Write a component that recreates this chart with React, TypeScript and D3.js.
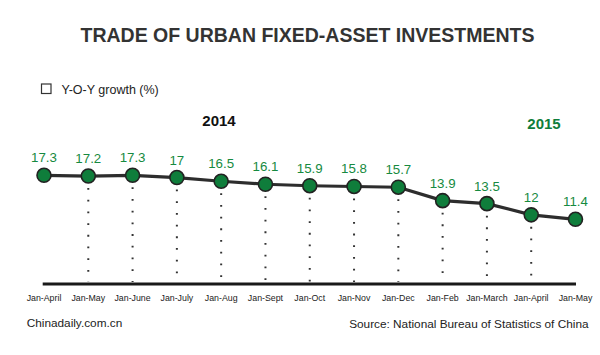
import React from "react";
import * as d3 from "d3";

const categories = [
  "Jan-April", "Jan-May", "Jan-June", "Jan-July", "Jan-Aug", "Jan-Sept",
  "Jan-Oct", "Jan-Nov", "Jan-Dec", "Jan-Feb", "Jan-March", "Jan-April", "Jan-May",
];
const growth = [17.3, 17.2, 17.3, 17, 16.5, 16.1, 15.9, 15.8, 15.7, 13.9, 13.5, 12, 11.4];
const valueLabels = ["17.3", "17.2", "17.3", "17", "16.5", "16.1", "15.9", "15.8", "15.7", "13.9", "13.5", "12", "11.4"];
const yearLabels = ["2014", "2015"];

const W = 600;
const H = 355;
const GREEN = "#0f7d3b";
const LABEL_GREEN = "#168a40";
const DARK = "#2d2d2d";
const FONT = "'Liberation Sans', Arial, Helvetica, sans-serif";

export default function App() {
  const idx = categories.map((_, i) => i);
  const x = d3.scalePoint<number>().domain(idx).range([44, 575.5]);
  const y = d3.scaleLinear().domain([11.4, 17.3]).range([219.3, 175.3]);
  const baseY = 284;
  const r = 7;

  const line = d3
    .line<number>()
    .x((d, i) => x(i) as number)
    .y((d) => y(d));

  return (
    <svg
      width={W}
      height={H}
      style={{ position: "absolute", left: 0, top: 0, background: "#fff" }}
      fontFamily={FONT}
    >
      <rect x={0} y={0} width={W} height={H} fill="#fff" />
      <text x={307.5} y={42} textAnchor="middle" fontSize={19.5} fontWeight="bold" fill="#333">
        TRADE OF URBAN FIXED-ASSET INVESTMENTS
      </text>

      {/* legend */}
      <rect x={41.5} y={84} width={9.5} height={9.5} fill="none" stroke="#333" strokeWidth={1.2} />
      <text x={61.5} y={94} fontSize={12.5} fill="#222">
        Y-O-Y growth (%)
      </text>

      <text x={219} y={126} textAnchor="middle" fontSize={15} fontWeight="bold" fill="#111">
        {yearLabels[0]}
      </text>
      <text x={544} y={129} textAnchor="middle" fontSize={15} fontWeight="bold" fill={GREEN}>
        {yearLabels[1]}
      </text>

      {/* dotted drop lines */}
      {growth.map((v, i) =>
        i === 0 || i === growth.length - 1 ? null : (
          <line
            key={"d" + i}
            x1={x(i)}
            x2={x(i)}
            y1={y(v) + 12}
            y2={baseY - 2}
            stroke="#333"
            strokeWidth={2}
            strokeDasharray="1.8 9.9"
          />
        )
      )}

      {/* baseline */}
      <line x1={42.7} x2={576} y1={baseY} y2={baseY} stroke="#1a1a1a" strokeWidth={3} />

      <path d={line(growth) || ""} fill="none" stroke={DARK} strokeWidth={3.2} strokeLinejoin="round" />

      {growth.map((v, i) => (
        <circle key={"c" + i} cx={x(i)} cy={y(v)} r={r} fill={GREEN} stroke="#222" strokeWidth={1.6} />
      ))}

      {growth.map((v, i) => (
        <text key={"l" + i} x={x(i)} y={y(v) - 13} textAnchor="middle" fontSize={13.3} fill={LABEL_GREEN}>
          {valueLabels[i]}
        </text>
      ))}

      {categories.map((c, i) => (
        <text key={"t" + i} x={x(i)} y={301} textAnchor="middle" fontSize={8.8} fill="#222">
          {c}
        </text>
      ))}

      <text x={26.7} y={327} fontSize={11.8} fill="#222">
        Chinadaily.com.cn
      </text>
      <text x={588.5} y={328} textAnchor="end" fontSize={11.8} fill="#222">
        Source: National Bureau of Statistics of China
      </text>
    </svg>
  );
}
